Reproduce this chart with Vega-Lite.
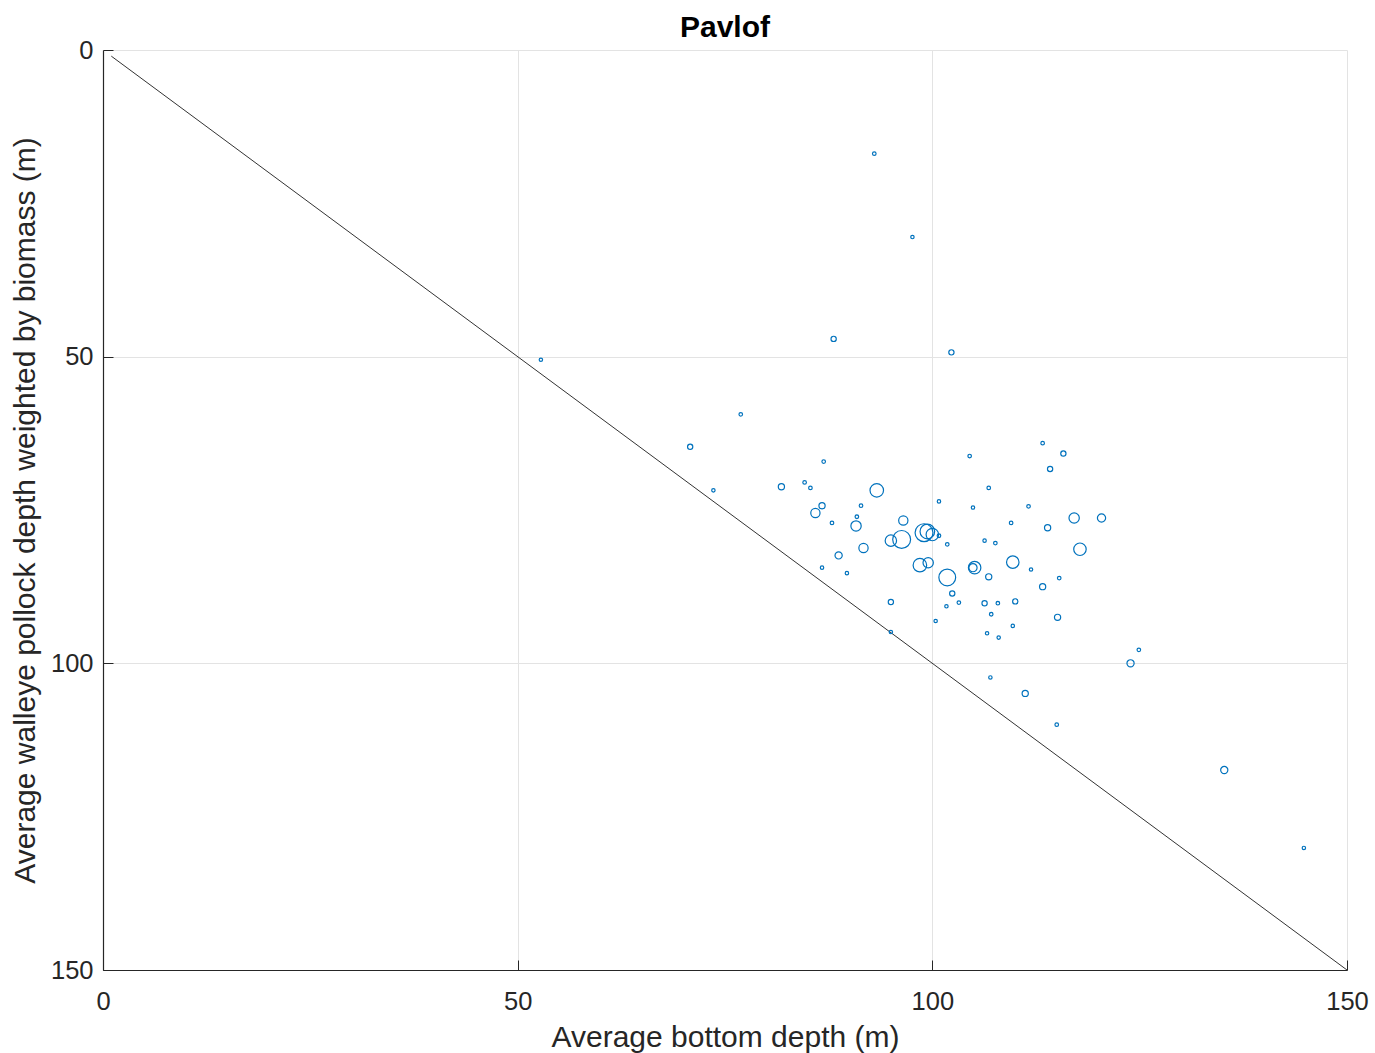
{
  "$schema": "https://vega.github.io/schema/vega-lite/v6.json",
  "width": 1244,
  "height": 920,
  "autosize": {"type": "none"},
  "padding": {"left": 103, "top": 50, "right": 28, "bottom": 83},
  "background": "white",
  "config": {
    "font": "Liberation Sans",
    "view": {"stroke": null},
    "axis": {
      "domainColor": "#262626",
      "domainWidth": 1.2,
      "tickColor": "#262626",
      "tickSize": -10,
      "tickWidth": 1,
      "gridColor": "#e3e3e3",
      "gridWidth": 1,
      "labelFont": "Liberation Sans",
      "labelFontSize": 25.5,
      "labelColor": "#262626",
      "labelFlush": false,
      "titleFont": "Liberation Sans",
      "titleFontSize": 30,
      "titleFontWeight": "normal",
      "titleColor": "#262626"
    }
  },
  "title": {
    "text": "Pavlof",
    "font": "Liberation Sans",
    "fontSize": 30,
    "fontWeight": "bold",
    "color": "#000000",
    "anchor": "middle",
    "frame": "group",
    "baseline": "bottom",
    "offset": 6,
    "dy": 41
  },
  "layer": [
    {
      "data": {"values": [{"depth": 1, "pollock": 1}, {"depth": 150, "pollock": 150}]},
      "mark": {"type": "line", "color": "#333333", "strokeWidth": 1},
      "encoding": {
        "x": {"field": "depth", "type": "quantitative"},
        "y": {"field": "pollock", "type": "quantitative"}
      }
    },
    {
      "data": {
        "values": [
          {"depth": 93.0, "pollock": 16.9, "biomass": 4},
          {"depth": 97.6, "pollock": 30.5, "biomass": 3},
          {"depth": 88.1, "pollock": 47.1, "biomass": 16},
          {"depth": 102.3, "pollock": 49.3, "biomass": 16},
          {"depth": 52.8, "pollock": 50.5, "biomass": 3},
          {"depth": 76.9, "pollock": 59.4, "biomass": 4},
          {"depth": 70.8, "pollock": 64.7, "biomass": 16},
          {"depth": 73.6, "pollock": 71.8, "biomass": 3},
          {"depth": 86.9, "pollock": 67.1, "biomass": 4},
          {"depth": 81.8, "pollock": 71.2, "biomass": 25},
          {"depth": 84.6, "pollock": 70.5, "biomass": 4},
          {"depth": 85.3, "pollock": 71.4, "biomass": 4},
          {"depth": 93.3, "pollock": 71.8, "biomass": 144},
          {"depth": 100.8, "pollock": 73.6, "biomass": 3},
          {"depth": 91.4, "pollock": 74.3, "biomass": 4},
          {"depth": 86.7, "pollock": 74.3, "biomass": 25},
          {"depth": 85.9, "pollock": 75.5, "biomass": 64},
          {"depth": 90.9, "pollock": 76.1, "biomass": 4},
          {"depth": 96.5, "pollock": 76.7, "biomass": 64},
          {"depth": 87.9, "pollock": 77.1, "biomass": 4},
          {"depth": 90.8, "pollock": 77.6, "biomass": 81},
          {"depth": 95.0, "pollock": 80.0, "biomass": 100},
          {"depth": 96.3, "pollock": 79.8, "biomass": 256},
          {"depth": 99.0, "pollock": 78.7, "biomass": 256},
          {"depth": 99.4, "pollock": 78.5, "biomass": 169},
          {"depth": 100.0, "pollock": 79.0, "biomass": 121},
          {"depth": 100.8, "pollock": 79.2, "biomass": 4},
          {"depth": 101.8, "pollock": 80.6, "biomass": 4},
          {"depth": 91.7, "pollock": 81.2, "biomass": 64},
          {"depth": 88.7, "pollock": 82.4, "biomass": 36},
          {"depth": 98.5, "pollock": 84.0, "biomass": 144},
          {"depth": 99.5, "pollock": 83.6, "biomass": 81},
          {"depth": 101.8, "pollock": 86.0, "biomass": 225},
          {"depth": 102.4, "pollock": 88.6, "biomass": 16},
          {"depth": 86.7, "pollock": 84.4, "biomass": 3},
          {"depth": 89.7, "pollock": 85.3, "biomass": 3},
          {"depth": 95.0, "pollock": 90.0, "biomass": 16},
          {"depth": 101.7, "pollock": 90.7, "biomass": 3},
          {"depth": 103.2, "pollock": 90.1, "biomass": 4},
          {"depth": 113.3, "pollock": 64.1, "biomass": 4},
          {"depth": 115.8, "pollock": 65.8, "biomass": 16},
          {"depth": 104.5, "pollock": 66.2, "biomass": 4},
          {"depth": 114.2, "pollock": 68.3, "biomass": 16},
          {"depth": 106.8, "pollock": 71.4, "biomass": 4},
          {"depth": 104.9, "pollock": 74.6, "biomass": 3},
          {"depth": 111.6, "pollock": 74.4, "biomass": 4},
          {"depth": 117.1, "pollock": 76.3, "biomass": 81},
          {"depth": 120.4, "pollock": 76.3, "biomass": 49},
          {"depth": 109.5, "pollock": 77.1, "biomass": 4},
          {"depth": 113.9, "pollock": 77.9, "biomass": 25},
          {"depth": 106.3, "pollock": 80.0, "biomass": 3},
          {"depth": 107.6, "pollock": 80.4, "biomass": 4},
          {"depth": 117.8, "pollock": 81.4, "biomass": 121},
          {"depth": 109.7, "pollock": 83.5, "biomass": 121},
          {"depth": 105.1, "pollock": 84.4, "biomass": 121},
          {"depth": 104.9, "pollock": 84.4, "biomass": 49},
          {"depth": 111.9, "pollock": 84.7, "biomass": 3},
          {"depth": 106.8, "pollock": 85.9, "biomass": 25},
          {"depth": 115.3, "pollock": 86.1, "biomass": 4},
          {"depth": 113.3, "pollock": 87.5, "biomass": 25},
          {"depth": 106.3, "pollock": 90.2, "biomass": 16},
          {"depth": 107.9, "pollock": 90.2, "biomass": 4},
          {"depth": 110.0, "pollock": 89.9, "biomass": 16},
          {"depth": 100.4, "pollock": 93.1, "biomass": 3},
          {"depth": 107.1, "pollock": 92.0, "biomass": 4},
          {"depth": 109.7, "pollock": 93.9, "biomass": 3},
          {"depth": 106.6, "pollock": 95.1, "biomass": 3},
          {"depth": 108.0, "pollock": 95.8, "biomass": 3},
          {"depth": 95.0, "pollock": 94.9, "biomass": 3},
          {"depth": 107.0, "pollock": 102.3, "biomass": 3},
          {"depth": 115.1, "pollock": 92.5, "biomass": 25},
          {"depth": 124.9, "pollock": 97.8, "biomass": 4},
          {"depth": 123.9, "pollock": 100.0, "biomass": 36},
          {"depth": 111.2, "pollock": 104.9, "biomass": 25},
          {"depth": 115.0, "pollock": 110.0, "biomass": 4},
          {"depth": 135.2, "pollock": 117.4, "biomass": 36},
          {"depth": 144.8, "pollock": 130.1, "biomass": 3}
        ]
      },
      "mark": {"type": "point", "shape": "circle", "filled": false, "stroke": "#0072BD", "strokeWidth": 1.2, "opacity": 1},
      "encoding": {
        "x": {"field": "depth", "type": "quantitative"},
        "y": {"field": "pollock", "type": "quantitative"},
        "size": {"field": "biomass", "type": "quantitative", "legend": null, "scale": {"domain": [0, 256], "range": [8, 320]}}
      }
    }
  ],
  "encoding": {
    "x": {
      "field": "depth", "type": "quantitative",
      "scale": {"domain": [0, 150], "nice": false, "zero": false},
      "axis": {"title": "Average bottom depth (m)", "values": [0, 50, 100, 150], "labelPadding": 29, "titlePadding": 32, "titleBaseline": "alphabetic"}
    },
    "y": {
      "field": "pollock", "type": "quantitative",
      "scale": {"domain": [0, 150], "nice": false, "zero": false, "reverse": true},
      "axis": {"title": "Average walleye pollock depth weighted by biomass (m)", "values": [0, 50, 100, 150], "labelPadding": 20, "titlePadding": 10}
    }
  }
}
